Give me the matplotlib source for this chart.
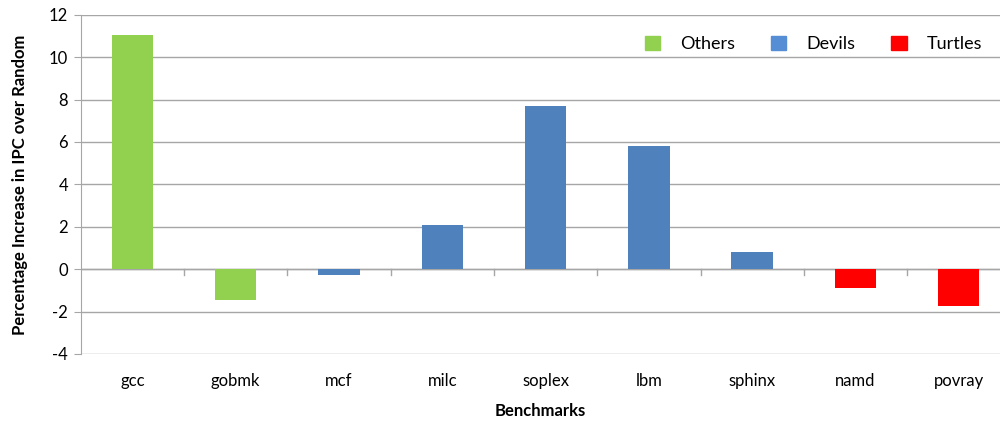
import matplotlib.pyplot as plt
from matplotlib.patches import Patch
from matplotlib.transforms import blended_transform_factory
import numpy as np

# Data
benchmarks = ['gcc', 'gobmk', 'mcf', 'milc', 'soplex', 'lbm', 'sphinx', 'namd', 'povray']
ipc_gain = [11.05, -1.45, -0.28, 2.10, 7.70, 5.83, 0.82, -0.91, -1.72]
groups = ['Others', 'Others', 'Devils', 'Devils', 'Devils', 'Devils', 'Devils', 'Turtles', 'Turtles']

bar_colors = {'Others': '#92D050', 'Devils': '#4F81BD', 'Turtles': '#FF0000'}
legend_colors = {'Others': '#92D050', 'Devils': '#558ED5', 'Turtles': '#FF0000'}

plt.rcParams['font.family'] = ['Lato', 'DejaVu Sans']
plt.rcParams['axes.unicode_minus'] = False

fig = plt.figure(figsize=(10.02, 4.22), dpi=100)
W, H = 1002, 422
left, right, top, bottom = 80.7, 1000, 14.7, 354
ax = fig.add_axes([left / W, 1 - bottom / H, (right - left) / W, (bottom - top) / H])

x = np.arange(len(benchmarks))
ax.bar(x, ipc_gain, width=0.40, color=[bar_colors[g] for g in groups], zorder=3)

ax.set_ylim(-4, 12)
ax.set_yticks(np.arange(-4, 13, 2))
ax.set_xlim(-0.5, -0.5 + (right - left) / 103.3)
ax.yaxis.grid(True, color='#A6A6A6', linewidth=1, zorder=0)
ax.set_axisbelow(True)

for s in ['top', 'right', 'bottom']:
    ax.spines[s].set_visible(False)
ax.spines['left'].set_color('#A6A6A6')
ax.axhline(0, color='#A6A6A6', linewidth=1, zorder=2)

# category boundary ticks hanging from the zero line
for b in np.arange(0.5, len(benchmarks) - 0.5, 1):
    ax.plot([b, b], [0, -0.28], color='#A6A6A6', linewidth=1, zorder=2, clip_on=False)

ax.tick_params(axis='y', length=5, color='#A6A6A6', labelsize=12, pad=4)
ax.set_xticks([])

# category names below the plot area
trans = blended_transform_factory(ax.transData, fig.transFigure)
for xi, name in zip(x, benchmarks):
    ax.text(xi, 1 - 381 / H, name, ha='center', va='center', fontsize=12, transform=trans)

ax.set_ylabel('Percentage Increase in IPC over Random', fontsize=12, fontweight='bold', labelpad=15)
fig.text((left + right) / 2 / W, 1 - 411 / H, 'Benchmarks', ha='center', va='center',
         fontsize=12, fontweight='bold')

handles = [Patch(color=legend_colors[g]) for g in ['Others', 'Devils', 'Turtles']]
ax.legend(handles, ['Others', 'Devils', 'Turtles'], ncol=3, frameon=False, fontsize=13,
          loc='upper right', bbox_to_anchor=(0.998, 0.985), handlelength=0.85, handleheight=0.85,
          handletextpad=1.1, columnspacing=2.0)

plt.savefig('out.png', dpi=100)
